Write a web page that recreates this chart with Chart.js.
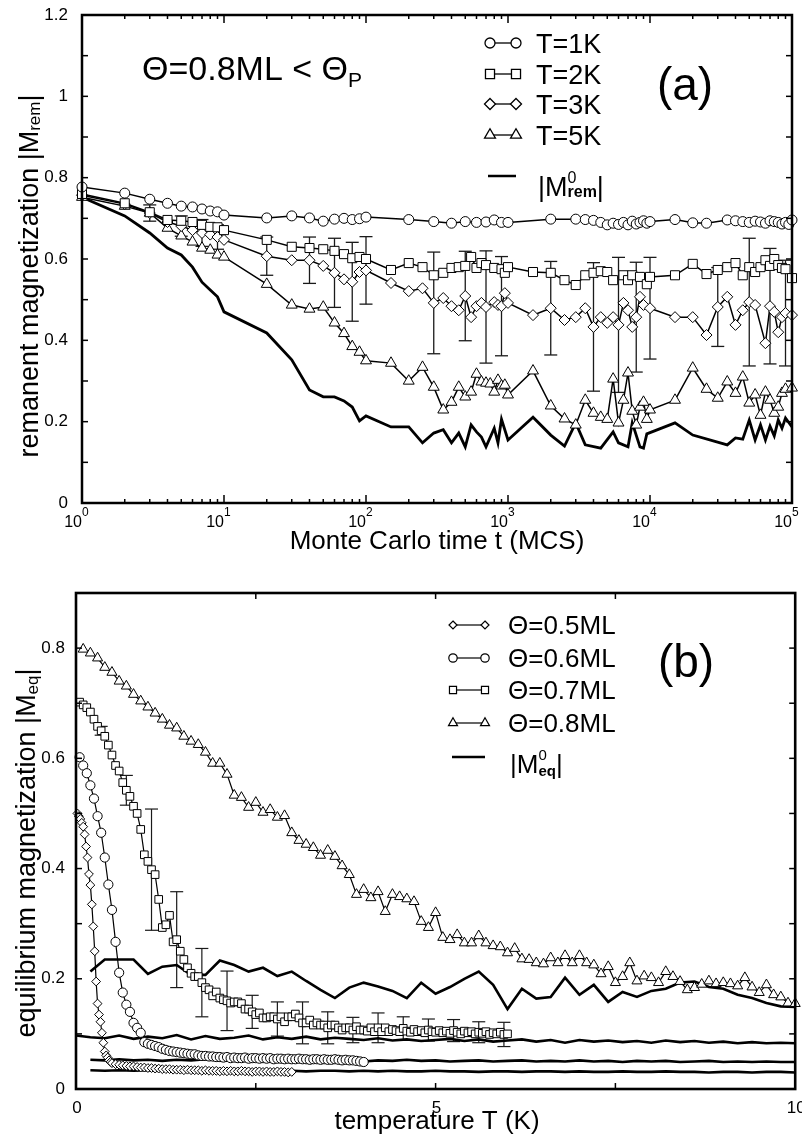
<!DOCTYPE html>
<html><head><meta charset="utf-8"><title>Magnetization</title>
<script src="https://cdn.jsdelivr.net/npm/chart.js@4.4.1/dist/chart.umd.min.js"></script>
<style>
html,body{margin:0;padding:0;background:#fff;overflow:hidden;}
#wrap{position:relative;width:802px;height:1142px;background:#fff;}
canvas{position:absolute;left:0;}
#ca{top:0;} #cb{top:560px;}
</style></head><body>
<div id="wrap"><canvas id="ca" width="802" height="560"></canvas><canvas id="cb" width="802" height="582"></canvas></div>
<script>
// ---------------- Panel (a) data ----------------
const tA1 = [1,2,3,4,5,6,7,8,9,10,20,30,40,50,60,70,80,90,100,200,300,400,500,600,700,800,900,1000,2000,3000,3500,4000,4500,5000,5500,6000,6500,7000,7500,8000,8500,9000,9500,10000,15000,20000,25000,35000,40000,45000,50000,55000,60000,65000,70000,75000,80000,85000,90000,95000,100000];
const mA1 = [0.777,0.762,0.747,0.737,0.730,0.728,0.723,0.718,0.716,0.708, 0.701,0.706,0.701,0.693,0.698,0.700,0.697,0.699,0.703, 0.697,0.692,0.688,0.692,0.690,0.691,0.696,0.690,0.690, 0.698, 0.698,0.697,0.695,0.690,0.684,0.688,0.685,0.690,0.684,0.693,0.686,0.690,0.694,0.688,0.692, 0.697,0.689,0.688, 0.696,0.694,0.692,0.690,0.693,0.691,0.688,0.694,0.692,0.690,0.686,0.690,0.685,0.696];

const tA2 = [1,2,3,4,5,6,7,8,9,10,20,30,40,50,60,70,80,90,100,150,200,250,300,350,400,450,500,550,600,650,700,800,900,950,1000,1500,2000,2500,3000,3500,4000,4500,5000,5500,6500,7000,7500,8500,9500,10000,15000,20000,25000,30000,35000,40000,45000,50000,55000,60000,65000,70000,75000,80000,85000,90000,100000];
const mA2 = [0.760,0.737,0.715,0.696,0.694,0.691,0.684,0.679,0.678,0.671, 0.647,0.630,0.627,0.624,0.620,0.612,0.602,0.605,0.600, 0.573,0.590,0.580,0.560,0.566,0.578,0.580,0.583,0.605,0.578,0.590,0.585,0.578,0.575,0.566,0.580, 0.568,0.566,0.548, 0.536,0.560,0.566,0.570,0.568,0.548,0.560,0.548,0.560,0.556,0.538,0.556, 0.560,0.588,0.563,0.573,0.580,0.590,0.560,0.580,0.568,0.580,0.597,0.583,0.600,0.585,0.578,0.575,0.553];

const tA3 = [1,2,3,4,5,6,7,8,9,10,20,30,40,50,60,70,80,90,100,150,200,250,300,350,400,450,500,550,600,650,700,800,850,900,950,1000,1500,2000,2500,3000,3500,4000,4500,5000,5500,6000,6500,7000,7500,8000,8500,9000,10000,15000,20000,25000,30000,35000,40000,45000,50000,55000,65000,70000,75000,80000,85000,90000,100000];
const mA3 = [0.757,0.735,0.713,0.691,0.681,0.671,0.664,0.660,0.654,0.647, 0.607,0.597,0.597,0.583,0.566,0.550,0.544,0.568,0.572, 0.541,0.521,0.528,0.492,0.504,0.484,0.474,0.509,0.457,0.484,0.492,0.482,0.494,0.487,0.484,0.516,0.492, 0.462,0.479,0.450, 0.457,0.479,0.433,0.457,0.443,0.457,0.438,0.492,0.474,0.433,0.457,0.507,0.487,0.479, 0.457,0.457,0.413,0.482,0.507,0.438,0.474,0.494,0.487,0.393,0.484,0.470,0.420,0.457,0.467,0.462];

const tA5 = [1,2,3,4,5,6,7,8,9,10,20,30,40,50,60,70,80,90,100,150,200,250,300,350,400,450,500,550,600,650,700,750,800,850,900,950,1000,1500,2000,2500,3000,3500,4000,4500,5000,5500,6000,6500,7000,7500,8000,8500,9000,9500,10000,15000,20000,25000,30000,35000,40000,45000,50000,55000,60000,65000,70000,75000,80000,85000,90000,100000];
const mA5 = [0.752,0.730,0.713,0.676,0.657,0.642,0.627,0.622,0.610,0.605, 0.538,0.487,0.477,0.482,0.443,0.417,0.385,0.371,0.350, 0.344,0.300,0.334,0.285,0.229,0.248,0.285,0.261,0.273,0.317,0.298,0.295,0.293,0.273,0.302,0.288,0.290,0.266, 0.325,0.239,0.207, 0.192,0.253,0.221,0.211,0.206,0.305,0.197,0.253,0.320,0.226,0.192,0.236,0.248,0.206,0.229, 0.253,0.332,0.280,0.258,0.298,0.270,0.310,0.246,0.266,0.216,0.273,0.253,0.221,0.236,0.270,0.280,0.283];

const tA0 = [1,2,3,4,5,6,7,8,9,10,20,30,40,50,60,70,80,90,100,150,200,250,300,350,400,450,500,550,600,650,700,800,850,900,1000,1500,2000,2500,3000,3500,4500,5500,6000,7000,7500,8500,9000,9500,15000,20000,35000,40000,45000,50000,55000,60000,65000,70000,75000,80000,85000,90000,100000];
const mA0 = [0.752,0.706,0.664,0.627,0.610,0.580,0.543,0.524,0.507,0.470, 0.418,0.352,0.278,0.261,0.261,0.251,0.236,0.202,0.214, 0.187,0.187,0.148,0.172,0.180,0.148,0.172,0.138,0.192,0.175,0.162,0.138,0.184,0.148,0.206,0.155, 0.211,0.167,0.140,0.197,0.143,0.135,0.175,0.148,0.138,0.197,0.138,0.135,0.170, 0.197,0.167,0.143,0.160,0.157,0.204,0.155,0.192,0.155,0.189,0.165,0.204,0.184,0.209,0.187];

// error bars on the T=3K series (half-length)
const errTA = [3,5,7,9,20,40,60,80,100,300,500,700,900,2000,4000,6000,8000,10000,30000,50000,70000,90000];
const errVA = [0.02,0.025,0.033,0.03,0.047,0.057,0.085,0.097,0.083,0.125,0.11,0.138,0.122,0.115,0.158,0.166,0.135,0.125,0.097,0.157,0.142,0.13];

const legendLabelsA = ['T=1K','T=2K','T=3K','T=5K'];
const yTickValsA = [0,0.2,0.4,0.6,0.8,1,1.2];
const yLabelsA = ['0','0.2','0.4','0.6','0.8','1','1.2'];
const yMinorA = [0.1,0.3,0.5,0.7,0.9,1.1];
const xDecadesA = [1,10,100,1000,10000,100000];
const xExpA = ['0','1','2','3','4','5'];
const xTitleA = 'Monte Carlo time t (MCS)';
const yTitleA = 'remanent magnetization |M';

// ---------------- Panel (b) data ----------------
const tB8 = [0.1,0.2,0.3,0.4,0.5,0.6,0.7,0.8,0.9,1,1.1,1.2,1.3,1.4,1.5,1.6,1.7,1.8,1.9,2,2.1,2.2,2.3,2.4,2.5,2.6,2.7,2.8,2.9,3,3.1,3.2,3.3,3.4,3.5,3.6,3.7,3.8,3.9,4,4.1,4.2,4.3,4.4,4.5,4.6,4.7,4.8,4.9,5,5.1,5.2,5.3,5.4,5.5,5.6,5.7,5.8,5.9,6,6.1,6.2,6.3,6.4,6.5,6.6,6.7,6.8,6.9,7,7.1,7.2,7.3,7.4,7.5,7.6,7.7,7.8,7.9,8,8.1,8.2,8.3,8.4,8.5,8.6,8.7,8.8,8.9,9,9.1,9.2,9.3,9.4,9.5,9.6,9.7,9.8,9.9,10];
const mB8 = [0.798,0.791,0.782,0.765,0.756,0.740,0.731,0.716,0.704,0.693, 0.682,0.671,0.660,0.655,0.640,0.631,0.625,0.611,0.591,0.591, 0.571,0.533,0.529,0.511,0.520,0.502,0.507,0.493,0.496,0.465, 0.451,0.444,0.438,0.424,0.433,0.422,0.405,0.389,0.353,0.362, 0.347,0.358,0.322,0.353,0.349,0.345,0.340,0.304,0.293,0.320, 0.275,0.271,0.280,0.265,0.265,0.278,0.265,0.260,0.258,0.247, 0.255,0.236,0.235,0.229,0.227,0.238,0.229,0.242,0.229,0.242, 0.229,0.225,0.209,0.222,0.193,0.204,0.229,0.196,0.205,0.202, 0.193,0.213,0.204,0.195,0.180,0.184,0.190,0.196,0.191,0.193, 0.191,0.187,0.202,0.185,0.175,0.189,0.171,0.167,0.156,0.155];

const tB7 = [0.05,0.1,0.15,0.2,0.25,0.3,0.35,0.4,0.45,0.5,0.55,0.6,0.65,0.7,0.75,0.8,0.85,0.9,0.95,1,
1.05,1.1,1.15,1.2,1.25,1.3,1.35,1.4,1.45,1.5,1.55,1.6,1.65,1.7,1.75,1.8,1.85,1.9,1.95,2,
2.05,2.1,2.15,2.2,2.25,2.3,2.35,2.4,2.45,2.5,2.55,2.6,2.65,2.7,2.75,2.8,2.85,2.9,2.95,3,
3.05,3.1,3.15,3.2,3.25,3.3,3.35,3.4,3.45,3.5,3.55,3.6,3.65,3.7,3.75,3.8,3.85,3.9,3.95,4,
4.05,4.1,4.15,4.2,4.25,4.3,4.35,4.4,4.45,4.5,4.55,4.6,4.65,4.7,4.75,4.8,4.85,4.9,4.95,5,
5.05,5.1,5.15,5.2,5.25,5.3,5.35,5.4,5.45,5.5,5.55,5.6,5.65,5.7,5.75,5.8,5.85,5.9,5.95,6];
const mB7 = [0.702,0.697,0.692,0.684,0.671,0.658,0.650,0.640,0.624,0.606,0.587,0.577,0.556,0.542,0.531,0.513,0.500,0.471,0.425,0.413,
0.398,0.389,0.344,0.293,0.298,0.315,0.267,0.271,0.250,0.235,0.220,0.210,0.204,0.204,0.193,0.184,0.180,0.169,0.176,0.165,
0.162,0.160,0.156,0.158,0.158,0.155,0.145,0.145,0.140,0.135,0.138,0.129,0.129,0.131,0.131,0.127,0.131,0.122,0.131,0.131,
0.136,0.129,0.120,0.120,0.125,0.116,0.120,0.116,0.116,0.111,0.116,0.116,0.111,0.107,0.111,0.111,0.107,0.113,0.107,0.107,
0.105,0.111,0.104,0.111,0.104,0.111,0.104,0.108,0.106,0.104,0.110,0.105,0.103,0.108,0.104,0.106,0.102,0.107,0.104,0.103,
0.106,0.102,0.105,0.101,0.106,0.103,0.100,0.105,0.102,0.104,0.100,0.103,0.101,0.104,0.099,0.102,0.100,0.103,0.099,0.100];

const tB6 = tB7.slice(0, 80);
const mB6 = [0.602,0.587,0.573,0.551,0.527,0.495,0.465,0.420,0.371,0.325,0.267,0.211,0.175,0.153,0.140,0.120,0.111,0.102,0.085,0.082,
0.080,0.078,0.076,0.073,0.071,0.069,0.068,0.067,0.066,0.065,0.064,0.063,0.063,0.061,0.060,0.060,0.059,0.059,0.058,0.058,
0.057,0.058,0.056,0.057,0.056,0.056,0.057,0.055,0.056,0.056,0.055,0.056,0.055,0.056,0.054,0.055,0.055,0.054,0.055,0.054,
0.054,0.055,0.054,0.054,0.053,0.054,0.054,0.053,0.054,0.053,0.053,0.054,0.053,0.052,0.053,0.052,0.052,0.051,0.050,0.049];

const tB5 = [0.02,0.04,0.06,0.08,0.1,0.12,0.14,0.16,0.18,0.2,0.22,0.24,0.26,0.28,0.3,0.32,0.34,0.36,0.38,0.4,0.42,0.44,0.46,0.48,0.5,
0.55,0.6,0.65,0.7,0.75,0.8,0.85,0.9,0.95,1,1.05,1.1,1.15,1.2,1.25,1.3,1.35,1.4,1.45,1.5,1.55,1.6,1.65,1.7,1.75,1.8,1.85,1.9,1.95,2,
2.05,2.1,2.15,2.2,2.25,2.3,2.35,2.4,2.45,2.5,2.55,2.6,2.65,2.7,2.75,2.8,2.85,2.9,2.95,3];
const mB5 = [0.500,0.495,0.490,0.483,0.476,0.462,0.440,0.420,0.390,0.370,0.335,0.295,0.250,0.195,0.155,0.135,0.122,0.102,0.084,0.068,0.061,0.057,0.052,0.049,0.047,
0.045,0.044,0.043,0.042,0.041,0.041,0.040,0.039,0.039,0.038,
0.038,0.037,0.037,0.036,0.036,0.036,0.035,0.035,0.035,0.034,
0.035,0.034,0.034,0.034,0.033,0.034,0.033,0.033,0.033,0.032,
0.033,0.032,0.033,0.032,0.032,0.033,0.032,0.032,0.031,0.032,
0.032,0.031,0.032,0.031,0.031,0.032,0.031,0.031,0.030,0.031];

const tB0 = [0.2,0.4,0.6,0.8,1,1.2,1.4,1.6,1.8,2,2.2,2.4,2.6,2.8,3,3.2,3.4,3.6,3.8,4,4.2,4.4,4.6,4.8,5,5.2,5.4,5.6,5.8,6,6.2,6.4,6.6,6.8,7,7.2,7.4,7.6,7.8,8,8.2,8.4,8.6,8.8,9,9.2,9.4,9.6,9.8,10];
const mB0_8 = [0.213,0.235,0.235,0.235,0.209,0.222,0.225,0.207,0.207,0.233, 0.225,0.213,0.220,0.205,0.213,0.196,0.180,0.165,0.184,0.193, 0.186,0.178,0.165,0.193,0.173,0.185,0.200,0.213,0.189,0.145, 0.182,0.164,0.167,0.202,0.171,0.189,0.158,0.176,0.167,0.178, 0.182,0.193,0.195,0.185,0.182,0.171,0.165,0.156,0.150,0.149];
const tB0z = [0].concat(tB0);
const mB0_7 = [0.097, 0.094,0.092,0.097,0.091,0.095,0.092,0.098,0.090,0.096,0.091, 0.093,0.097,0.090,0.094,0.091,0.095,0.090,0.093,0.091,0.089, 0.092,0.088,0.090,0.087,0.089,0.091,0.087,0.090,0.086,0.088, 0.090,0.086,0.089,0.084,0.089,0.086,0.088,0.085,0.087,0.084, 0.088,0.085,0.087,0.084,0.086,0.083,0.085,0.083,0.084,0.083];
const mB0_6 = [0.053,0.052,0.054,0.052,0.053,0.051,0.053,0.052,0.054,0.052, 0.053,0.051,0.052,0.053,0.051,0.052,0.053,0.051,0.052,0.050, 0.052,0.051,0.053,0.051,0.052,0.050,0.051,0.052,0.050,0.051, 0.052,0.050,0.051,0.050,0.052,0.050,0.051,0.049,0.051,0.050, 0.051,0.049,0.050,0.051,0.049,0.050,0.049,0.050,0.049,0.049];
const mB0_5 = [0.034,0.033,0.034,0.033,0.034,0.033,0.033,0.034,0.033,0.033, 0.034,0.033,0.032,0.033,0.033,0.032,0.033,0.033,0.032,0.033, 0.032,0.033,0.032,0.032,0.033,0.032,0.032,0.031,0.032,0.032, 0.031,0.032,0.032,0.031,0.032,0.031,0.031,0.032,0.031,0.031, 0.032,0.031,0.031,0.030,0.031,0.031,0.030,0.031,0.031,0.030];

// error bars on the 0.7ML series (half-length)
const errTB = [0.35,0.7,1.05,1.4,1.75,2.1,2.45,2.8,3.15,3.5,3.85,4.2,4.55,4.9,5.25,5.6,5.95];
const errVB = [0.008,0.027,0.11,0.087,0.062,0.054,0.03,0.031,0.038,0.029,0.023,0.027,0.021,0.02,0.02,0.019,0.022];

const legendLabelsB = ['Θ=0.5ML','Θ=0.6ML','Θ=0.7ML','Θ=0.8ML'];
const yTickValsB = [0,0.2,0.4,0.6,0.8];
const yLabelsB = ['0','0.2','0.4','0.6','0.8'];
const yAllTicksB = [0,0.1,0.2,0.3,0.4,0.5,0.6,0.7,0.8];
const xTickValsB = [0,5,10];
const xLabelsB = ['0','5','10'];
const xMinorB = [2.5,7.5];
const xTitleB = 'temperature T (K)';
const yTitleB = 'equilibrium magnetization |M';

// ---------------- helpers ----------------
const FONT = '"Liberation Sans", Arial, Helvetica, sans-serif';
function fnt(px, w){ return (w||'normal') + ' ' + px + 'px ' + FONT; }
function hline(ctx,x1,x2,y){ ctx.beginPath(); ctx.moveTo(x1,y); ctx.lineTo(x2,y); ctx.stroke(); }
function vline(ctx,x,y1,y2){ ctx.beginPath(); ctx.moveTo(x,y1); ctx.lineTo(x,y2); ctx.stroke(); }
function drawRich(ctx, segs, x, y, measureOnly){
  ctx.textAlign='left'; ctx.textBaseline='alphabetic';
  let start=x, end=x;
  for(const s of segs){
    ctx.font = fnt(s.f, s.w);
    const w = ctx.measureText(s.t).width;
    const sx = s.stack ? start : end;
    if(!measureOnly) ctx.fillText(s.t, sx, y + (s.dy||0));
    start = sx; end = Math.max(end, sx + w);
  }
  return end - x;
}
function marker(ctx, style, x, y, r){
  ctx.beginPath();
  if(style==='circle'){ ctx.arc(x,y,r,0,Math.PI*2); }
  else if(style==='rect'){ const s=r*Math.SQRT1_2; ctx.rect(x-s,y-s,2*s,2*s); }
  else if(style==='rectRot'){ ctx.moveTo(x,y-r); ctx.lineTo(x+r,y); ctx.lineTo(x,y+r); ctx.lineTo(x-r,y); ctx.closePath(); }
  else if(style==='triangle'){ const c=r*Math.sqrt(3)/2; ctx.moveTo(x,y-r); ctx.lineTo(x+c,y+r/2); ctx.lineTo(x-c,y+r/2); ctx.closePath(); }
  ctx.fillStyle='#fff'; ctx.fill(); ctx.stroke();
}
function drawErrors(chart, ts, es, serT, serM, cap, lw){
  const {ctx, scales:{x,y}} = chart;
  ctx.save(); ctx.strokeStyle='#1a1a1a'; ctx.lineWidth=lw;
  ts.forEach((t,i)=>{
    const j = serT.indexOf(t); if(j<0) return;
    const c = serM[j];
    const px = x.getPixelForValue(t), p1 = y.getPixelForValue(c+es[i]), p2 = y.getPixelForValue(c-es[i]);
    vline(ctx,px,p1,p2); hline(ctx,px-cap,px+cap,p1); hline(ctx,px-cap,px+cap,p2);
  });
  ctx.restore();
}
function ds(label, xs, ys, style, r, lw, pbw){
  return {label, data: xs.map((v,i)=>({x:v, y:ys[i]})), showLine:true, fill:false, tension:0,
    borderColor:'#000', borderWidth:lw, pointStyle: style||'circle', pointRadius: style? r : 0,
    pointHoverRadius: style? r:0, pointBackgroundColor:'#fff', pointBorderColor:'#000', pointBorderWidth:pbw||1, clip:false};
}

// ---------------- Panel (a) ----------------
const pluginA = {
  id:'panelA',
  beforeDatasetsDraw(chart){ drawErrors(chart, errTA, errVA, tA3, mA3, 6.5, 1.3); },
  afterDraw(chart){
    const {ctx, chartArea:a, scales:{x,y}} = chart;
    ctx.save(); ctx.strokeStyle='#000'; ctx.fillStyle='#000';
    ctx.lineWidth=1.5;
    yTickValsA.concat(yMinorA).forEach(v=>{ const p=y.getPixelForValue(v); hline(ctx,a.left,a.left+6,p); hline(ctx,a.right-6,a.right,p); });
    xDecadesA.forEach((t0,d)=>{
      for(let k=1;k<=9;k++){
        if(d===xDecadesA.length-1 && k>1) break;
        const p = x.getPixelForValue(k*t0); const L = k===1?8:4;
        vline(ctx,p,a.bottom-L,a.bottom); vline(ctx,p,a.top,a.top+L);
      }
    });
    ctx.lineWidth=2.5; ctx.strokeRect(a.left,a.top,a.right-a.left,a.bottom-a.top);
    // tick labels
    ctx.font=fnt(17); ctx.textAlign='right'; ctx.textBaseline='middle';
    yTickValsA.forEach((v,i)=>ctx.fillText(yLabelsA[i], 68, y.getPixelForValue(v)));
    ctx.textBaseline='alphabetic';
    xDecadesA.forEach((t,i)=>{
      const p=x.getPixelForValue(t);
      ctx.font=fnt(16); ctx.textAlign='right'; ctx.fillText('10', p, 527);
      ctx.font=fnt(12); ctx.textAlign='left'; ctx.fillText(xExpA[i], p, 516);
    });
    // axis titles
    ctx.font=fnt(26); ctx.textAlign='center'; ctx.fillText(xTitleA, 437, 549);
    ctx.save(); ctx.translate(38,276); ctx.rotate(-Math.PI/2);
    const segY=[{t:yTitleA,f:27},{t:'rem',f:17,dy:2},{t:'|',f:27}];
    const wY=drawRich(ctx,segY,0,0,true); drawRich(ctx,segY,-wY/2,0);
    ctx.restore();
    // annotation
    drawRich(ctx,[{t:'Θ=0.8ML < Θ',f:34},{t:'P',f:21,dy:7}],142,80);
    ctx.font=fnt(46); ctx.textAlign='center'; ctx.fillText('(a)', 685, 100);
    // legend
    const styles=['circle','rect','rectRot','triangle'], radii=[5,6.4,5.5,6.3], rows=[43,74,104,135];
    ctx.lineWidth=1.3;
    rows.forEach((ry,i)=>{
      ctx.strokeStyle='#000'; hline(ctx,490,516,ry);
      marker(ctx,styles[i],490,ry,radii[i]); marker(ctx,styles[i],516,ry,radii[i]);
      ctx.fillStyle='#000'; ctx.font=fnt(27); ctx.textAlign='left'; ctx.textBaseline='alphabetic';
      ctx.fillText(legendLabelsA[i], 536, ry+10);
    });
    ctx.lineWidth=2.5; hline(ctx,488,516,176);
    ctx.fillStyle='#000';
    drawRich(ctx,[{t:'|M',f:27},{t:'0',f:16,dy:-13},{t:'rem',f:16,w:'bold',dy:1,stack:true},{t:'|',f:27}],538,196);
    ctx.restore();
  }
};

new Chart(document.getElementById('ca'), {
  type:'line',
  data:{ datasets:[
    ds(legendLabelsA[0], tA1, mA1, 'circle', 5, 1.5, 1),
    ds(legendLabelsA[1], tA2, mA2, 'rect', 6.4, 1.5, 1),
    ds(legendLabelsA[2], tA3, mA3, 'rectRot', 5.5, 1.5, 1),
    ds(legendLabelsA[3], tA5, mA5, 'triangle', 6.3, 1.5, 1),
    ds('|M0rem|', tA0, mA0, null, 0, 2.8, 1)
  ]},
  options:{
    responsive:false, animation:false, devicePixelRatio:1,
    layout:{padding:{left:82,right:10,top:15,bottom:57}},
    plugins:{legend:{display:false}, tooltip:{enabled:false}},
    scales:{
      x:{type:'logarithmic', min:1, max:100000, display:false},
      y:{type:'linear', min:0, max:1.2, display:false}
    }
  },
  plugins:[pluginA]
});

// ---------------- Panel (b) ----------------
const pluginB = {
  id:'panelB',
  beforeDatasetsDraw(chart){ drawErrors(chart, errTB, errVB, tB7, mB7, 6.5, 1.2); },
  afterDraw(chart){
    const {ctx, chartArea:a, scales:{x,y}} = chart;
    ctx.save(); ctx.strokeStyle='#000'; ctx.fillStyle='#000';
    ctx.lineWidth=1.5;
    yAllTicksB.forEach(v=>{ const p=y.getPixelForValue(v); hline(ctx,a.left,a.left+6,p); hline(ctx,a.right-6,a.right,p); });
    xTickValsB.concat(xMinorB).forEach(v=>{ const p=x.getPixelForValue(v); vline(ctx,p,a.bottom-6,a.bottom); vline(ctx,p,a.top,a.top+6); });
    ctx.lineWidth=2.6; ctx.strokeRect(a.left,a.top,a.right-a.left,a.bottom-a.top);
    ctx.font=fnt(17); ctx.textAlign='right'; ctx.textBaseline='middle';
    yTickValsB.forEach((v,i)=>ctx.fillText(yLabelsB[i], 65, y.getPixelForValue(v)));
    ctx.textAlign='center'; ctx.textBaseline='alphabetic';
    xTickValsB.forEach((v,i)=>ctx.fillText(xLabelsB[i], x.getPixelForValue(v)+1, 553));
    ctx.font=fnt(26); ctx.fillText(xTitleB, 437, 569);
    ctx.save(); ctx.translate(35,293); ctx.rotate(-Math.PI/2);
    const segY=[{t:yTitleB,f:27},{t:'eq',f:17,dy:3},{t:'|',f:27}];
    const wY=drawRich(ctx,segY,0,0,true); drawRich(ctx,segY,-wY/2,0);
    ctx.restore();
    ctx.font=fnt(46); ctx.textAlign='center'; ctx.fillText('(b)', 686, 117);
    const styles=['rectRot','circle','rect','triangle'], radii=[4,4.2,5,5.2], rows=[65,98,130,163];
    ctx.lineWidth=1.2;
    rows.forEach((ry,i)=>{
      ctx.strokeStyle='#000'; hline(ctx,453,485,ry);
      marker(ctx,styles[i],453,ry,radii[i]); marker(ctx,styles[i],485,ry,radii[i]);
      ctx.fillStyle='#000'; ctx.font=fnt(26); ctx.textAlign='left'; ctx.textBaseline='alphabetic';
      ctx.fillText(legendLabelsB[i], 508, ry+9);
    });
    ctx.lineWidth=2.5; hline(ctx,452,485,197);
    ctx.fillStyle='#000';
    drawRich(ctx,[{t:'|M',f:26},{t:'0',f:15,dy:-13},{t:'eq',f:15,w:'bold',dy:3,stack:true},{t:'|',f:26}],510,213);
    ctx.restore();
  }
};

new Chart(document.getElementById('cb'), {
  type:'line',
  data:{ datasets:[
    ds(legendLabelsB[0], tB5, mB5, 'rectRot', 4.4, 1.2, 1),
    ds(legendLabelsB[1], tB6, mB6, 'circle', 4.6, 1.2, 1),
    ds(legendLabelsB[2], tB7, mB7, 'rect', 5.4, 1.2, 1),
    ds(legendLabelsB[3], tB8, mB8, 'triangle', 5.8, 1.2, 1),
    ds('|M0eq| 0.8ML', tB0, mB0_8, null, 0, 2.6, 1),
    ds('|M0eq| 0.7ML', tB0z, mB0_7, null, 0, 2.6, 1),
    ds('|M0eq| 0.6ML', tB0, mB0_6, null, 0, 2.6, 1),
    ds('|M0eq| 0.5ML', tB0, mB0_5, null, 0, 2.6, 1)
  ]},
  options:{
    responsive:false, animation:false, devicePixelRatio:1,
    layout:{padding:{left:76,right:5,top:33,bottom:53}},
    plugins:{legend:{display:false}, tooltip:{enabled:false}},
    scales:{
      x:{type:'linear', min:0, max:10, display:false},
      y:{type:'linear', min:0, max:0.9, display:false}
    }
  },
  plugins:[pluginB]
});
</script>
</body></html>
